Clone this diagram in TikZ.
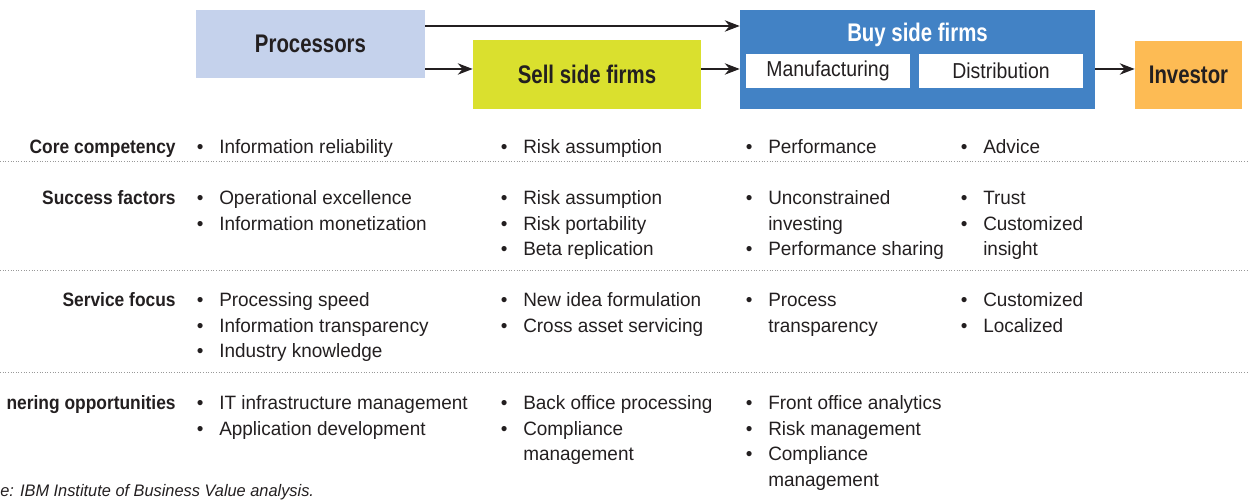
\documentclass[tikz,border=0pt]{standalone}
\usepackage{fontspec}
\setmainfont{Liberation Sans}[FakeStretch=0.98, BoldFeatures={FakeStretch=0.9}]
\newfontfamily\headfont{Liberation Sans}[FakeStretch=0.8]
\newfontfamily\partfont{Liberation Sans}[FakeStretch=0.9]
\usepackage{tikz}
\usetikzlibrary{arrows.meta,calc}

\definecolor{procblue}{RGB}{197,210,236}
\definecolor{sellgreen}{RGB}{218,224,46}
\definecolor{buyblue}{RGB}{66,130,197}
\definecolor{invorange}{RGB}{253,187,84}
\definecolor{ink}{RGB}{35,31,32}

\newcommand{\bul}{\makebox[12.7pt][l]{\textbullet}}
\newcommand{\nob}{\hspace*{12.7pt}}
\newcommand{\cell}[1]{\begin{tabular}[t]{@{}l@{}}#1\end{tabular}}

\begin{document}
\begin{tikzpicture}[x=0.02cm, y=-0.02cm,
  box/.style={inner sep=0pt, text=ink, font=\headfont\bfseries\fontsize{14.5}{16}\selectfont},
  part/.style={fill=white, inner sep=0pt, minimum width=3.28cm, minimum height=0.68cm, text=ink, font=\partfont\fontsize{12.3}{14}\selectfont},
  flow/.style={-{Stealth[length=8.5pt,width=6.5pt]}, line width=0.7pt, draw=ink},
  rowlab/.style={anchor=base east, inner sep=0pt, text=ink, font=\bfseries\fontsize{11}{14.5}\selectfont},
  cell/.style={anchor=base west, inner sep=0pt, text=ink, font=\fontsize{11}{14.5}\selectfont},
  rule/.style={densely dotted, draw=gray!80, line width=0.5pt}]

\useasboundingbox (0,0) rectangle (1249,502);
\clip (0,0) rectangle (1249,502);

% value chain
\node[box, fill=procblue, minimum width=4.58cm, minimum height=1.36cm] (proc) at (310.5,44) {Processors};
\node[box, fill=sellgreen, minimum width=4.56cm, minimum height=1.38cm] (sell) at (587,74.5) {Sell side firms};
\node[fill=buyblue, inner sep=0pt, minimum width=7.10cm, minimum height=1.98cm] (buy) at (917.5,59.5) {};
\node[box, text=white] (buytitle) at (917.5,35) {Buy side firms};
\node[part] (manu) at (828,71) {Manufacturing};
\node[part] (distr) at (1001,71) {Distribution};
\node[box, fill=invorange, minimum width=2.14cm, minimum height=1.36cm] (inv) at (1188.5,75) {Investor};

\coordinate (upper) at (0,26);
\coordinate (lower) at (0,69);
\draw[flow] (proc.east |- upper) -- (buy.west |- upper);
\draw[flow] (proc.east |- lower) -- (sell.west |- lower);
\draw[flow] (sell.east |- lower) -- (buy.west |- lower);
\draw[flow] (buy.east |- lower) -- (inv.west |- lower);

% rows
\node[rowlab] (corelab) at (176,154) {Core competency};
\node[cell] (coreproc) at (196.6,154) {\cell{\bul Information reliability}};
\node[cell] (coresell) at (500.6,154) {\cell{\bul Risk assumption}};
\node[cell] (corebuy) at (745.6,154) {\cell{\bul Performance}};
\node[cell] (coreinv) at (960.6,154) {\cell{\bul Advice}};

\node[rowlab] (succlab) at (176,205) {Success factors};
\node[cell] (succproc) at (196.6,205) {\cell{\bul Operational excellence\\ \bul Information monetization}};
\node[cell] (succsell) at (500.6,205) {\cell{\bul Risk assumption\\ \bul Risk portability\\ \bul Beta replication}};
\node[cell] (succbuy) at (745.6,205) {\cell{\bul Unconstrained\\ \nob investing\\ \bul Performance sharing}};
\node[cell] (succinv) at (960.6,205) {\cell{\bul Trust\\ \bul Customized\\ \nob insight}};

\node[rowlab] (servlab) at (176,307) {Service focus};
\node[cell] (servproc) at (196.6,307) {\cell{\bul Processing speed\\ \bul Information transparency\\ \bul Industry knowledge}};
\node[cell] (servsell) at (500.6,307) {\cell{\bul New idea formulation\\ \bul Cross asset servicing}};
\node[cell] (servbuy) at (745.6,307) {\cell{\bul Process\\ \nob transparency}};
\node[cell] (servinv) at (960.6,307) {\cell{\bul Customized\\ \bul Localized}};

\node[rowlab] (partlab) at (176,410) {nering opportunities};
\node[cell] (partproc) at (196.6,410) {\cell{\bul IT infrastructure management\\ \bul Application development}};
\node[cell] (partsell) at (500.6,410) {\cell{\bul Back office processing\\ \bul Compliance\\ \nob management}};
\node[cell] (partbuy) at (745.6,410) {\cell{\bul Front office analytics\\ \bul Risk management\\ \bul Compliance\\ \nob management}};

\foreach \y in {161,270,372} \draw[rule] (0,\y) -- (1249,\y);

\node[anchor=base west, inner sep=0pt, text=ink, font=\itshape\fontsize{9.5}{11}\selectfont] (source) at (0,497) {e: IBM Institute of Business Value analysis.};
\end{tikzpicture}
\end{document}
